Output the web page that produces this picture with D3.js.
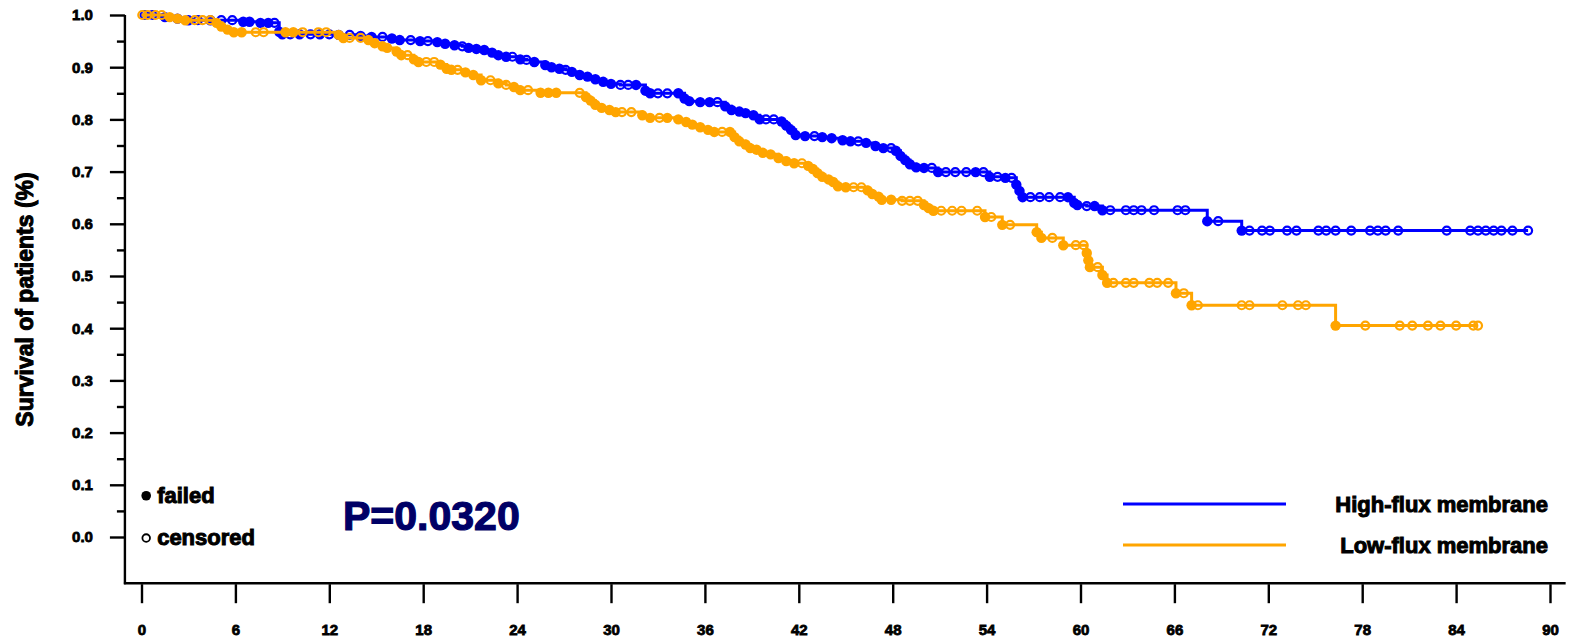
<!DOCTYPE html>
<html>
<head>
<meta charset="utf-8">
<script src="https://cdn.jsdelivr.net/npm/d3@7"></script>
<style>
  html, body { margin: 0; padding: 0; background: #ffffff; }
  svg { display: block; }
  text { font-family: "Liberation Sans", Arial, sans-serif; font-weight: bold; }
</style>
</head>
<body>
<svg id="chart" width="1569" height="641"></svg>
<script>
// Axis ticks
const xTicks = [0, 6, 12, 18, 24, 30, 36, 42, 48, 54, 60, 66, 72, 78, 84, 90];
const yTicks = [0, 0.1, 0.2, 0.3, 0.4, 0.5, 0.6, 0.7, 0.8, 0.9, 1.0];
const yMinorTicks = [0.05, 0.15, 0.25, 0.35, 0.45, 0.55, 0.65, 0.75, 0.85, 0.95];

// Group labels
const groupNames = ["High-flux membrane", "Low-flux membrane"];
const markerNames = ["failed", "censored"];
const pValueText = "P=0.0320";

// High-flux membrane: event month, survival after event, 1 = failed / 0 = censored
const highFluxMonths = [0.2,0.7,1.5,2.3,3.0,3.6,4.4,5.1,5.8,6.5,6.9,7.6,8.1,8.5,8.8,9.0,9.5,10.1,10.8,11.4,12.0,12.6,13.3,14.0,14.7,15.4,16.0,16.5,17.2,17.8,18.3,18.9,19.4,20.0,20.5,20.9,21.4,21.9,22.4,22.8,23.3,23.7,24.2,24.6,25.1,25.8,26.2,26.7,27.1,27.5,28.0,28.5,29.0,29.5,30.0,30.6,31.1,31.6,32.2,32.5,33.0,33.6,34.3,34.7,35.0,35.7,36.3,36.8,37.3,37.7,38.2,38.6,39.1,39.5,39.9,40.4,40.9,41.2,41.5,41.8,42.4,43.0,43.5,44.1,44.8,45.3,45.8,46.3,46.9,47.4,47.9,48.2,48.5,48.8,49.1,49.5,50.0,50.5,50.9,51.4,52.0,52.7,53.3,53.8,54.2,54.7,55.2,55.6,55.9,56.1,56.3,56.8,57.4,58.0,58.7,59.2,59.6,59.8,60.4,60.9,61.4,61.9,62.9,63.4,63.9,64.7,66.2,66.7,68.1,68.8,70.3,70.8,71.6,72.1,73.2,73.8,75.2,75.7,76.3,77.3,78.5,79.0,79.5,80.3,83.4,84.9,85.4,85.9,86.4,86.9,87.6,88.6];
const highFluxSurvival = [1.0,1.0,0.996,0.993,0.99,0.99,0.99,0.99,0.99,0.987,0.987,0.985,0.985,0.985,0.968,0.963,0.963,0.963,0.963,0.963,0.963,0.962,0.962,0.96,0.958,0.958,0.955,0.952,0.952,0.95,0.95,0.948,0.945,0.942,0.94,0.937,0.935,0.933,0.928,0.923,0.92,0.92,0.915,0.914,0.91,0.904,0.9,0.897,0.895,0.891,0.885,0.882,0.877,0.872,0.868,0.866,0.866,0.866,0.855,0.85,0.85,0.85,0.85,0.84,0.835,0.833,0.833,0.833,0.825,0.818,0.815,0.812,0.808,0.8,0.8,0.8,0.796,0.788,0.78,0.77,0.768,0.768,0.766,0.764,0.76,0.758,0.758,0.755,0.749,0.745,0.745,0.74,0.73,0.722,0.714,0.708,0.707,0.707,0.699,0.699,0.699,0.699,0.699,0.699,0.69,0.69,0.688,0.688,0.675,0.663,0.651,0.651,0.651,0.651,0.651,0.651,0.64,0.636,0.634,0.634,0.626,0.626,0.626,0.626,0.626,0.626,0.626,0.626,0.605,0.605,0.587,0.587,0.587,0.587,0.587,0.587,0.587,0.587,0.587,0.587,0.587,0.587,0.587,0.587,0.587,0.587,0.587,0.587,0.587,0.587,0.587,0.587];
const highFluxFailed = [0,0,1,1,1,0,1,0,0,1,1,1,1,0,1,1,0,1,0,1,0,1,0,1,1,0,1,1,0,1,0,1,1,1,0,1,1,1,1,1,1,0,1,0,1,1,1,1,0,1,1,1,1,1,1,0,0,1,1,1,0,0,1,1,1,1,1,0,1,1,1,1,1,1,0,0,1,1,1,1,1,0,1,1,1,1,0,1,1,1,0,1,1,1,1,1,1,0,1,0,0,0,1,0,1,0,1,0,1,1,1,0,0,0,0,1,1,1,0,1,1,0,0,0,0,0,0,0,1,0,1,0,0,0,0,0,0,0,0,0,0,0,0,0,0,0,0,0,0,0,0,0];

// Low-flux membrane: event month, survival after event, 1 = failed / 0 = censored
const lowFluxMonths = [0.05,0.4,0.9,1.3,1.8,2.3,2.8,3.4,3.9,4.4,4.8,5.1,5.5,5.9,6.4,7.3,7.8,9.2,9.7,10.3,11.3,11.8,12.6,12.9,13.3,14.0,14.5,14.9,15.4,15.7,16.3,16.6,17.0,17.4,17.7,18.2,18.7,19.1,19.5,19.8,20.2,20.7,21.2,21.7,22.3,22.8,23.3,23.8,24.2,24.7,25.5,26.0,26.5,28.0,28.4,28.7,29.0,29.4,29.9,30.3,30.7,31.3,32.0,32.5,33.1,33.6,34.3,34.8,35.2,35.7,36.2,36.6,37.1,37.6,37.9,38.2,38.6,38.9,39.3,39.7,40.2,40.7,41.2,41.7,42.2,42.6,42.9,43.2,43.5,43.9,44.2,44.5,45.0,45.5,46.0,46.4,46.7,47.1,47.3,47.9,48.6,49.1,49.6,50.0,50.3,50.6,51.1,51.8,52.4,53.4,53.9,54.3,55.0,55.5,57.2,57.5,58.2,58.9,59.7,60.2,60.4,60.5,60.6,61.1,61.4,61.7,62.1,62.9,63.4,64.4,64.9,65.6,66.1,66.6,67.1,67.5,70.3,70.8,72.9,73.9,74.4,76.3,78.2,80.4,81.2,82.2,83.0,84.0,85.1,85.4];
const lowFluxSurvival = [1.0,1.0,1.0,1.0,0.996,0.993,0.99,0.99,0.99,0.99,0.985,0.978,0.972,0.967,0.967,0.967,0.967,0.967,0.967,0.967,0.967,0.967,0.962,0.956,0.956,0.956,0.952,0.946,0.94,0.937,0.93,0.923,0.923,0.915,0.91,0.91,0.91,0.905,0.897,0.895,0.895,0.89,0.885,0.875,0.875,0.869,0.866,0.862,0.856,0.856,0.851,0.851,0.851,0.851,0.843,0.836,0.828,0.822,0.818,0.814,0.814,0.814,0.808,0.803,0.803,0.803,0.8,0.795,0.79,0.785,0.78,0.776,0.776,0.776,0.766,0.758,0.752,0.745,0.742,0.736,0.733,0.726,0.72,0.716,0.716,0.711,0.705,0.697,0.69,0.685,0.68,0.672,0.67,0.67,0.67,0.664,0.657,0.652,0.646,0.646,0.644,0.644,0.644,0.636,0.63,0.625,0.625,0.625,0.625,0.625,0.613,0.613,0.598,0.598,0.584,0.573,0.573,0.559,0.559,0.559,0.544,0.53,0.517,0.517,0.502,0.487,0.487,0.487,0.487,0.487,0.487,0.487,0.467,0.467,0.444,0.444,0.444,0.444,0.444,0.444,0.444,0.405,0.405,0.405,0.405,0.405,0.405,0.405,0.405,0.405];
const lowFluxFailed = [0,0,0,0,1,1,1,0,0,0,1,1,1,1,1,0,0,1,1,0,0,0,1,1,0,0,1,1,1,1,1,1,0,1,1,0,0,1,1,1,0,1,1,1,0,1,0,1,1,0,1,1,1,0,1,1,1,1,1,1,0,0,1,1,0,1,1,1,1,1,1,1,0,1,1,1,1,1,1,1,1,1,1,1,0,1,1,1,1,1,1,1,1,0,0,1,1,1,1,1,0,0,0,1,1,1,0,0,0,0,1,0,1,0,1,1,0,1,0,0,1,1,1,0,1,1,0,0,0,0,0,0,1,0,1,0,0,0,0,0,0,1,0,0,0,0,0,0,0,0];

const groupColors = ["#0000ff", "#ffa500"];

const svg = d3.select("#chart");

// Scales
const x = d3.scaleLinear().domain([0, 90]).range([141.5, 1550]);
const y = d3.scaleLinear().domain([0, 1]).range([537, 15]);
const xStart = -1.06, xEnd = 91;   // extent of the horizontal axis line
const yFloor = -0.0885;            // where the horizontal axis sits

// Axis frame lines
svg.append("line")
  .attr("x1", x(xStart)).attr("x2", x(xStart))
  .attr("y1", y(1)).attr("y2", y(yFloor) + 1)
  .attr("stroke", "#000").attr("stroke-width", 2.4);
svg.append("line")
  .attr("x1", x(xStart) - 1).attr("x2", x(xEnd))
  .attr("y1", y(yFloor)).attr("y2", y(yFloor))
  .attr("stroke", "#000").attr("stroke-width", 2.4);

// Y axis: major ticks with labels, minor ticks without
const yAxis = svg.append("g")
  .attr("transform", `translate(${x(xStart)},0)`)
  .call(d3.axisLeft(y).tickValues(yTicks).tickSize(15).tickPadding(17)
    .tickFormat(d3.format(".1f")));
yAxis.select(".domain").remove();
yAxis.selectAll(".tick line").attr("stroke", "#000").attr("stroke-width", 2.4);
yAxis.selectAll(".tick text")
  .attr("font-size", 15).attr("fill", "#000")
  .attr("stroke", "#000").attr("stroke-width", 0.8)
  .style("font-family", "'Liberation Sans', Arial, sans-serif").style("font-weight", "bold");

const yMinor = svg.append("g")
  .attr("transform", `translate(${x(xStart)},0)`)
  .call(d3.axisLeft(y).tickValues(yMinorTicks).tickSize(8).tickFormat(""));
yMinor.select(".domain").remove();
yMinor.selectAll(".tick line").attr("stroke", "#000").attr("stroke-width", 2.4);

// X axis
const xAxis = svg.append("g")
  .attr("transform", `translate(0,${y(yFloor) + 1})`)
  .call(d3.axisBottom(x).tickValues(xTicks).tickSize(19).tickPadding(21));
xAxis.select(".domain").remove();
xAxis.selectAll(".tick line").attr("stroke", "#000").attr("stroke-width", 2.4);
xAxis.selectAll(".tick text")
  .attr("font-size", 15).attr("fill", "#000")
  .attr("stroke", "#000").attr("stroke-width", 0.8)
  .style("font-family", "'Liberation Sans', Arial, sans-serif").style("font-weight", "bold");

// Y axis title
svg.append("text")
  .attr("transform", `translate(33,${y(0.455)}) rotate(-90)`)
  .attr("text-anchor", "middle")
  .attr("font-size", 23)
  .attr("fill", "#000").attr("stroke", "#000").attr("stroke-width", 1.0)
  .text("Survival of patients (%)");

// Kaplan-Meier step curves with failure / censoring markers
const stepLine = d3.line()
  .x(d => x(d[0]))
  .y(d => y(d[1]))
  .curve(d3.curveStepAfter);

function drawGroup(months, survival, failed, color) {
  const events = months.map((m, i) => ({ t: m, s: survival[i], f: failed[i] }));
  const pts = [[0, 1]].concat(events.map(e => [e.t, e.s]));
  const g = svg.append("g");
  g.append("path")
    .attr("d", stepLine(pts))
    .attr("fill", "none")
    .attr("stroke", color)
    .attr("stroke-width", 3);
  g.selectAll("circle.cens")
    .data(events.filter(e => !e.f))
    .join("circle")
    .attr("class", "cens")
    .attr("cx", e => x(e.t)).attr("cy", e => y(e.s))
    .attr("r", 4)
    .attr("fill", "none")
    .attr("stroke", color).attr("stroke-width", 2.2);
  g.selectAll("circle.fail")
    .data(events.filter(e => e.f))
    .join("circle")
    .attr("class", "fail")
    .attr("cx", e => x(e.t)).attr("cy", e => y(e.s))
    .attr("r", 5.2)
    .attr("fill", color);
}

drawGroup(highFluxMonths, highFluxSurvival, highFluxFailed, groupColors[0]);
drawGroup(lowFluxMonths, lowFluxSurvival, lowFluxFailed, groupColors[1]);

// Marker key (failed / censored)
svg.append("circle")
  .attr("cx", x(0.3)).attr("cy", y(0.079)).attr("r", 4.8).attr("fill", "#000");
svg.append("circle")
  .attr("cx", x(0.3)).attr("cy", y(-0.002)).attr("r", 3.8)
  .attr("fill", "none").attr("stroke", "#000").attr("stroke-width", 1.8);
svg.selectAll("text.mkey")
  .data(markerNames)
  .join("text")
  .attr("class", "mkey")
  .attr("x", x(1.0))
  .attr("y", (d, i) => i === 0 ? 503 : 545)
  .attr("font-size", 22)
  .attr("fill", "#000").attr("stroke", "#000").attr("stroke-width", 1.0)
  .text(d => d);

// P value
svg.append("text")
  .attr("x", 343).attr("y", 530)
  .attr("font-size", 41)
  .attr("fill", "#000066").attr("stroke", "#000066").attr("stroke-width", 1.2)
  .text(pValueText);

// Group legend
const legend = svg.append("g");
groupNames.forEach((name, i) => {
  const ly = i === 0 ? 504 : 545;
  legend.append("line")
    .attr("x1", 1123).attr("x2", 1286)
    .attr("y1", ly).attr("y2", ly)
    .attr("stroke", groupColors[i]).attr("stroke-width", 3);
  legend.append("text")
    .attr("x", 1548).attr("y", ly + 8)
    .attr("text-anchor", "end")
    .attr("font-size", 22)
    .attr("fill", "#000").attr("stroke", "#000").attr("stroke-width", 1.0)
    .text(name);
});
</script>
</body>
</html>
